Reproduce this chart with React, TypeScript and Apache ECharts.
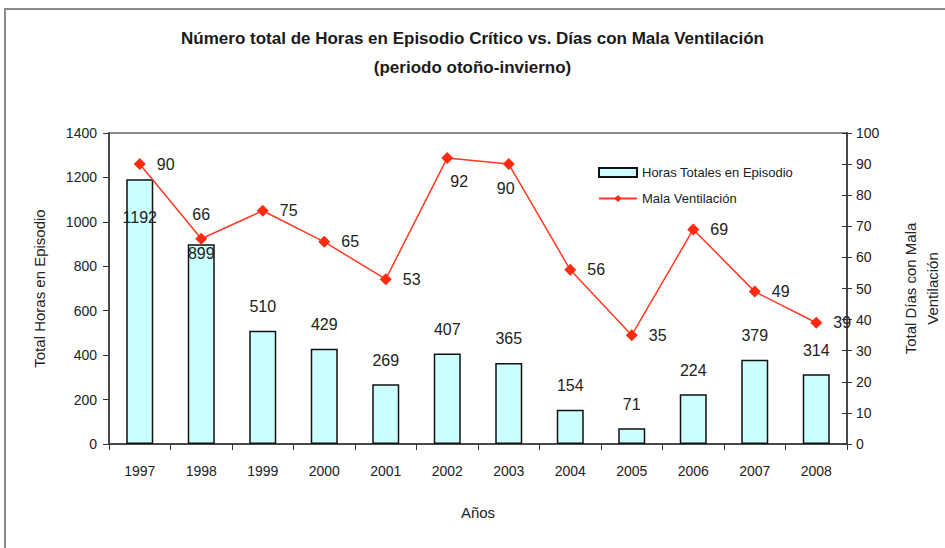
import React, { useEffect, useRef } from "react";
import * as echarts from "echarts";

const years = ["1997","1998","1999","2000","2001","2002","2003","2004","2005","2006","2007","2008"];
const horas = [1192, 899, 510, 429, 269, 407, 365, 154, 71, 224, 379, 314];
const dias = [90, 66, 75, 65, 53, 92, 90, 56, 35, 69, 49, 39];
const titleText = "Número total de Horas en Episodio Crítico vs. Días con Mala Ventilación\n(periodo otoño-invierno)";

const FONT = "'Liberation Sans', Arial, sans-serif";

export default function App() {
  const ref = useRef<HTMLDivElement>(null);
  useEffect(() => {
    document.body.style.margin = "0";
    const chart = echarts.init(ref.current!, null, { renderer: "svg" });
    const barData = horas.map((v, i) => {
      if (i === 0) return { value: v, label: { position: "insideTop", distance: 30 } };
      if (i === 1) return { value: v, label: { position: "insideTop", distance: 1 } };
      return v;
    });
    const lineData = dias.map((v, i) => {
      if (i === 1) return { value: v, label: { position: "top", distance: 10 } };
      if (i === 5) return { value: v, label: { position: "bottom", distance: 10, offset: [12, 0] } };
      if (i === 6) return { value: v, label: { position: "bottom", distance: 10, offset: [-3, 0] } };
      return v;
    });
    chart.setOption({
      animation: false,
      textStyle: { fontFamily: FONT },
      title: {
        text: titleText,
        left: "center",
        top: 19,
        textStyle: { fontFamily: FONT, fontSize: 17, fontWeight: "bold", color: "#1a1a1a", lineHeight: 29 },
      },
      graphic: [
        {
          type: "rect",
          shape: { x: 5, y: 9, width: 1000, height: 600 },
          style: { fill: "none", stroke: "#8a8a8a", lineWidth: 2 },
          silent: true,
        },
      ],
      legend: {
        orient: "vertical",
        left: 593,
        top: 161,
        itemGap: 13,
        itemWidth: 38,
        itemHeight: 9,
        textStyle: { fontFamily: FONT, fontSize: 13, color: "#222" },
        data: [
          { name: "Horas Totales en Episodio", icon: "rect", itemStyle: { borderWidth: 2 } },
          { name: "Mala Ventilación" },
        ],
      },
      grid: {
        left: 109,
        right: 98,
        top: 133,
        bottom: 104,
        show: true,
        borderColor: "#8a8a8a",
        borderWidth: 2,
        outerBoundsMode: "none",
        containLabel: false,
      },
      xAxis: {
        type: "category",
        data: years,
        name: "Años",
        nameLocation: "middle",
        nameGap: 61,
        nameMoveOverlap: false,
        nameTextStyle: { fontFamily: FONT, fontSize: 15, color: "#222" },
        axisLine: { lineStyle: { color: "#333", width: 1.5 } },
        axisTick: { show: true, length: 6, lineStyle: { color: "#333" } },
        axisLabel: { fontFamily: FONT, fontSize: 14, color: "#222", margin: 20 },
      },
      yAxis: [
        {
          type: "value",
          min: 0,
          max: 1400,
          interval: 200,
          name: "Total Horas en Episodio",
          nameLocation: "middle",
          nameRotate: 90,
          nameGap: 62,
          nameMoveOverlap: false,
          nameTextStyle: { fontFamily: FONT, fontSize: 15, color: "#222" },
          axisLine: { show: true, lineStyle: { color: "#333", width: 1.5 } },
          axisTick: { show: true, length: 6, lineStyle: { color: "#333" } },
          axisLabel: { fontFamily: FONT, fontSize: 14, color: "#222", margin: 12, formatter: (v: number) => String(v) },
          splitLine: { show: false },
        },
        {
          type: "value",
          min: 0,
          max: 100,
          interval: 10,
          position: "right",
          name: "Total Días con Mala\nVentilación",
          nameLocation: "middle",
          nameRotate: 90,
          nameGap: 52,
          nameMoveOverlap: false,
          nameTextStyle: { fontFamily: FONT, fontSize: 15, color: "#222", lineHeight: 22 },
          axisLine: { show: true, lineStyle: { color: "#333", width: 1.5 } },
          axisTick: { show: true, length: 5, lineStyle: { color: "#333" } },
          axisLabel: { fontFamily: FONT, fontSize: 14, color: "#222", margin: 9, formatter: (v: number) => String(v) },
          splitLine: { show: false },
        },
        {
          type: "value",
          min: 0,
          max: 100,
          interval: 10,
          position: "right",
          axisLine: { show: false },
          axisTick: { show: true, inside: true, length: 5, lineStyle: { color: "#333" } },
          axisLabel: { show: false },
          splitLine: { show: false },
        },
      ],
      series: [
        {
          name: "Horas Totales en Episodio",
          type: "bar",
          data: barData,
          barWidth: 27,
          itemStyle: { color: "#ccffff", borderColor: "#111", borderWidth: 1.5 },
          label: {
            show: true,
            position: "top",
            distance: 16,
            fontFamily: FONT,
            fontSize: 16,
            color: "#222",
          },
        },
        {
          name: "Mala Ventilación",
          type: "line",
          yAxisIndex: 1,
          data: lineData,
          symbol: "diamond",
          symbolSize: 12,
          itemStyle: { color: "#ff2a10" },
          lineStyle: { color: "#ff3a20", width: 1.5 },
          label: {
            show: true,
            position: "right",
            distance: 11,
            fontFamily: FONT,
            fontSize: 16,
            color: "#222",
          },
        },
      ],
    });
    return () => chart.dispose();
  }, []);
  return <div ref={ref} style={{ width: 945, height: 548 }} />;
}
